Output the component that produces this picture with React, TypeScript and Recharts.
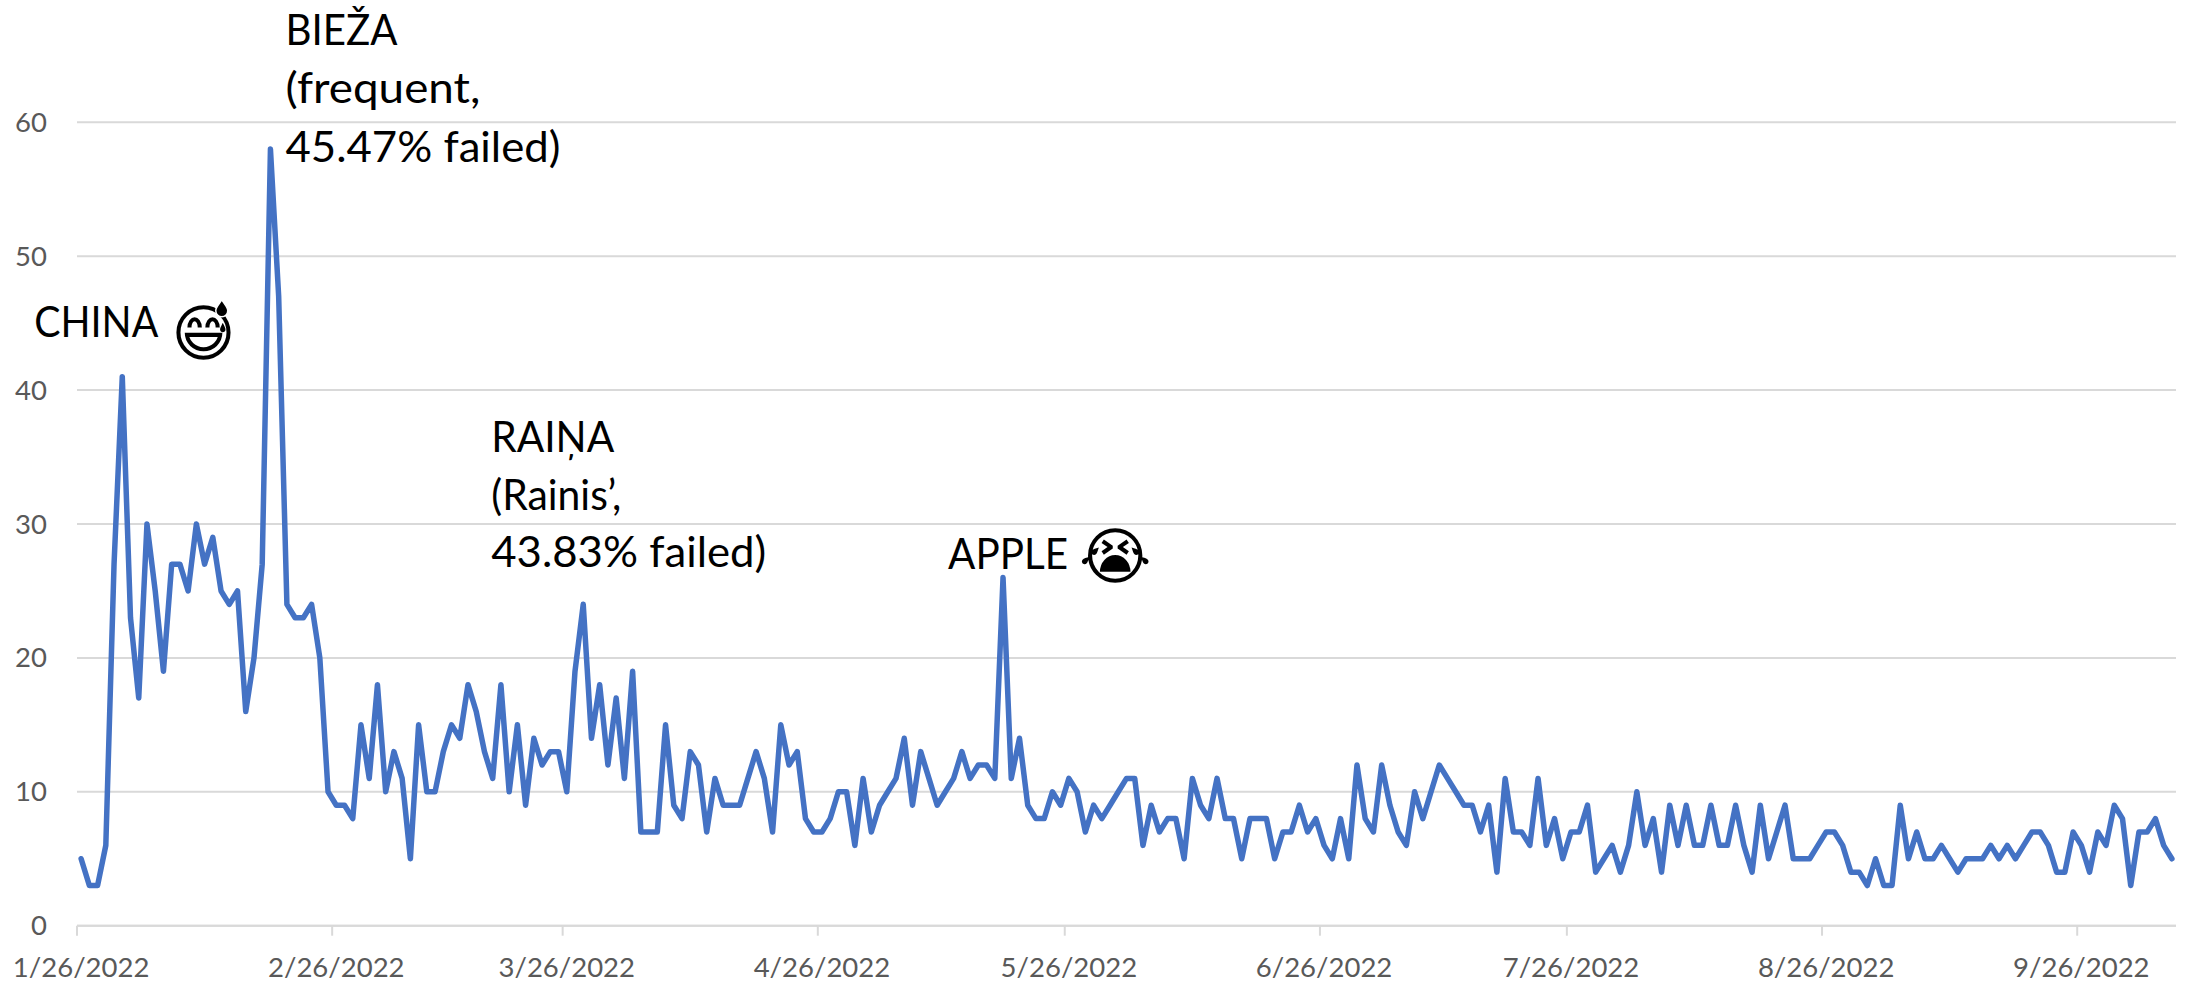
import React from "react";
import { LineChart, Line, XAxis, YAxis, CartesianGrid, ReferenceDot } from "recharts";

const FIRST_DAY = Date.UTC(2022, 0, 26);
const failedValues = [
  5, 3, 3, 6, 27, 41, 23, 17, 30, 25, 19, 27, 27, 25, 30, 27, 29, 25, 24, 25,
  16, 20, 27, 58, 47, 24, 23, 23, 24, 20, 10, 9, 9, 8, 15, 11, 18, 10, 13, 11,
  5, 15, 10, 10, 13, 15, 14, 18, 16, 13, 11, 18, 10, 15, 9, 14, 12, 13, 13, 10,
  19, 24, 14, 18, 12, 17, 11, 19, 7, 7, 7, 15, 9, 8, 13, 12, 7, 11, 9, 9,
  9, 11, 13, 11, 7, 15, 12, 13, 8, 7, 7, 8, 10, 10, 6, 11, 7, 9, 10, 11,
  14, 9, 13, 11, 9, 10, 11, 13, 11, 12, 12, 11, 26, 11, 14, 9, 8, 8, 10, 9,
  11, 10, 7, 9, 8, 9, 10, 11, 11, 6, 9, 7, 8, 8, 5, 11, 9, 8, 11, 8,
  8, 5, 8, 8, 8, 5, 7, 7, 9, 7, 8, 6, 5, 8, 5, 12, 8, 7, 12, 9,
  7, 6, 10, 8, 10, 12, 11, 10, 9, 9, 7, 9, 4, 11, 7, 7, 6, 11, 6, 8,
  5, 7, 7, 9, 4, 5, 6, 4, 6, 10, 6, 8, 4, 9, 6, 9, 6, 6, 9, 6,
  6, 9, 6, 4, 9, 5, 7, 9, 5, 5, 5, 6, 7, 7, 6, 4, 4, 3, 5, 3,
  3, 9, 5, 7, 5, 5, 6, 5, 4, 5, 5, 5, 6, 5, 6, 5, 6, 7, 7, 6,
  4, 4, 7, 6, 4, 7, 6, 9, 8, 3, 7, 7, 8, 6, 5,
];
const dateLabels = failedValues.map((_, i) => {
  const d = new Date(FIRST_DAY + i * 86400000);
  return `${d.getUTCMonth() + 1}/${d.getUTCDate()}/${d.getUTCFullYear()}`;
});
const xTickLabels = [
  "1/26/2022", "2/26/2022", "3/26/2022", "4/26/2022", "5/26/2022",
  "6/26/2022", "7/26/2022", "8/26/2022", "9/26/2022",
];
const yTickValues = [0, 10, 20, 30, 40, 50, 60];
const tableData = failedValues.map((failed, i) => ({ date: dateLabels[i], failed }));

const FONT = "Lato, Carlito, sans-serif";
const GREY = "#D9D9D9";
const WIDTH = 2188;
const HEIGHT = 983;
const MARGIN = { top: 122.3, right: 12, bottom: 0, left: 0 };
const HALF_STEP = 4.12;

const XTick = (props: any) => {
  const { x, y, payload } = props;
  return (
    <g>
      <line x1={x - HALF_STEP} x2={x - HALF_STEP} y1={y} y2={y + 10} stroke={GREY} strokeWidth={2} />
      <text x={x} y={y + 51} textAnchor="middle" fontFamily={FONT} fontSize={27.5} fill="#595959">
        {payload.value}
      </text>
    </g>
  );
};

const YTick = (props: any) => {
  const { y, payload } = props;
  return (
    <text x={47} y={y + 9.5} textAnchor="end" fontFamily={FONT} fontSize={27.5} fill="#595959">
      {payload.value}
    </text>
  );
};

const note = (
  lines: string[],
  widths: number[],
  dx: number,
  dys: number[],
  emoji?: string,
  emojiDx?: number,
  emojiDy?: number,
  dropAt?: [number, number]
) =>
  (props: any) => {
    const { cx, cy } = props;
    return (
      <g>
        {lines.map((t, i) => (
          <text
            key={t}
            x={cx + dx}
            y={cy + dys[i]}
            fontFamily={FONT}
            fontSize={43}
            fill="#000"
            textLength={widths[i]}
            lengthAdjust="spacingAndGlyphs"
          >
            {t}
          </text>
        ))}
        {emoji ? (
          <text x={cx + (emojiDx as number)} y={cy + (emojiDy as number)} fontFamily="'DejaVu Sans'" fontSize={62} fill="#000">
            {emoji}
          </text>
        ) : null}
        {dropAt ? (
          <path
            transform={`translate(${cx + dropAt[0]},${cy + dropAt[1]})`}
            d="M0,-8 C2,-4 6,-1 6,3 A6,6 0 1 1 -6,3 C-6,-1 -2,-4 0,-8 Z"
            fill="#000"
            stroke="#fff"
            strokeWidth={1.5}
          />
        ) : null}
      </g>
    );
  };

export default function App() {
  return (
    <div style={{ position: "absolute", left: 0, top: 0, width: WIDTH, height: HEIGHT, background: "#fff" }}>
      <LineChart width={WIDTH} height={HEIGHT} data={tableData} margin={MARGIN}>
        <CartesianGrid vertical={false} stroke={GREY} strokeWidth={2} />
        <XAxis
          dataKey="date"
          type="category"
          ticks={xTickLabels}
          interval={0}
          padding={{ left: HALF_STEP, right: HALF_STEP }}
          axisLine={{ stroke: GREY, strokeWidth: 2 }}
          tickLine={false}
          tickSize={0}
          tickMargin={0}
          height={57.3}
          tick={<XTick />}
        />
        <YAxis
          type="number"
          domain={[0, 60]}
          ticks={yTickValues}
          interval={0}
          axisLine={false}
          tickLine={false}
          width={77}
          tick={<YTick />}
        />
        <Line
          dataKey="failed"
          type="linear"
          stroke="#4472C4"
          strokeWidth={5.5}
          strokeLinecap="round"
          strokeLinejoin="round"
          dot={false}
          activeDot={false}
          isAnimationActive={false}
        />
        <ReferenceDot x={dateLabels[5]} y={failedValues[5]} r={0} ifOverflow="visible"
          shape={note(["CHINA"], [124], -88, [-40], "\u{1F605}", 49, -22, [99.5, -69])} />
        <ReferenceDot x={dateLabels[23]} y={failedValues[23]} r={0} ifOverflow="visible"
          shape={note(["BIEŽA", "(frequent,", "45.47% failed)"], [112, 195, 275], 15, [-104, -46, 13])} />
        <ReferenceDot x={dateLabels[61]} y={failedValues[61]} r={0} ifOverflow="visible"
          shape={note(["RAIŅA", "(Rainis’,", "43.83% failed)"], [123, 130, 275], -92, [-152, -94, -37])} />
        <ReferenceDot x={dateLabels[112]} y={failedValues[112]} r={0} ifOverflow="visible"
          shape={note(["APPLE"], [120], -55, [-9], "\u{1F62D}", 76, 0)} />
      </LineChart>
    </div>
  );
}
